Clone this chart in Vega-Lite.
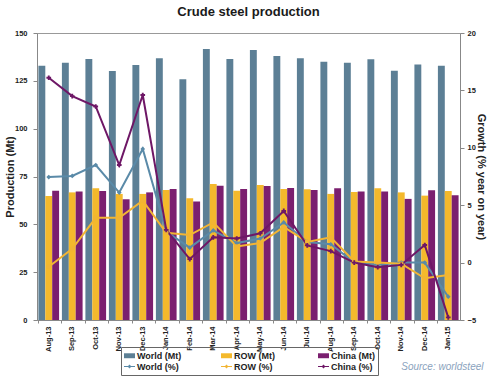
{
  "$schema": "https://vega.github.io/schema/vega-lite/v6.json",
  "autosize": {"type": "none"},
  "width": 423,
  "height": 287,
  "padding": {"left": 37, "top": 33, "right": 30, "bottom": 56},
  "background": "white",
  "title": {"text": "Crude steel production", "font": "Liberation Sans", "fontSize": 13, "fontWeight": "bold", "color": "#1a1a1a", "offset": 10},
  "config": {
    "view": {"stroke": "#999999", "strokeWidth": 1},
    "font": "Liberation Sans",
    "axis": {"grid": false, "domainColor": "#888888", "tickColor": "#888888", "labelColor": "#222222", "labelFont": "Liberation Sans", "titleFont": "Liberation Sans", "labelFontWeight": "bold", "titleFontWeight": "bold", "titleColor": "#222222"}
  },
  "datasets": {
    "bars": [
      {"month": "Aug-13", "series": "World (Mt)", "value": 132.9}, {"month": "Aug-13", "series": "ROW (Mt)", "value": 64.8}, {"month": "Aug-13", "series": "China (Mt)", "value": 67.6},
      {"month": "Sep-13", "series": "World (Mt)", "value": 134.5}, {"month": "Sep-13", "series": "ROW (Mt)", "value": 66.7}, {"month": "Sep-13", "series": "China (Mt)", "value": 67.1},
      {"month": "Oct-13", "series": "World (Mt)", "value": 136.4}, {"month": "Oct-13", "series": "ROW (Mt)", "value": 68.8}, {"month": "Oct-13", "series": "China (Mt)", "value": 67.4},
      {"month": "Nov-13", "series": "World (Mt)", "value": 130.2}, {"month": "Nov-13", "series": "ROW (Mt)", "value": 65.9}, {"month": "Nov-13", "series": "China (Mt)", "value": 63.1},
      {"month": "Dec-13", "series": "World (Mt)", "value": 133.3}, {"month": "Dec-13", "series": "ROW (Mt)", "value": 65.9}, {"month": "Dec-13", "series": "China (Mt)", "value": 66.7},
      {"month": "Jan-14", "series": "World (Mt)", "value": 136.8}, {"month": "Jan-14", "series": "ROW (Mt)", "value": 68.0}, {"month": "Jan-14", "series": "China (Mt)", "value": 68.5},
      {"month": "Feb-14", "series": "World (Mt)", "value": 125.8}, {"month": "Feb-14", "series": "ROW (Mt)", "value": 63.6}, {"month": "Feb-14", "series": "China (Mt)", "value": 61.9},
      {"month": "Mar-14", "series": "World (Mt)", "value": 141.7}, {"month": "Mar-14", "series": "ROW (Mt)", "value": 71.1}, {"month": "Mar-14", "series": "China (Mt)", "value": 70.2},
      {"month": "Apr-14", "series": "World (Mt)", "value": 136.4}, {"month": "Apr-14", "series": "ROW (Mt)", "value": 67.6}, {"month": "Apr-14", "series": "China (Mt)", "value": 68.5},
      {"month": "May-14", "series": "World (Mt)", "value": 141.1}, {"month": "May-14", "series": "ROW (Mt)", "value": 70.6}, {"month": "May-14", "series": "China (Mt)", "value": 70.0},
      {"month": "Jun-14", "series": "World (Mt)", "value": 138.0}, {"month": "Jun-14", "series": "ROW (Mt)", "value": 68.5}, {"month": "Jun-14", "series": "China (Mt)", "value": 69.0},
      {"month": "Jul-14", "series": "World (Mt)", "value": 136.8}, {"month": "Jul-14", "series": "ROW (Mt)", "value": 68.3}, {"month": "Jul-14", "series": "China (Mt)", "value": 68.0},
      {"month": "Aug-14", "series": "World (Mt)", "value": 135.0}, {"month": "Aug-14", "series": "ROW (Mt)", "value": 65.9}, {"month": "Aug-14", "series": "China (Mt)", "value": 68.8},
      {"month": "Sep-14", "series": "World (Mt)", "value": 134.5}, {"month": "Sep-14", "series": "ROW (Mt)", "value": 66.9}, {"month": "Sep-14", "series": "China (Mt)", "value": 67.1},
      {"month": "Oct-14", "series": "World (Mt)", "value": 136.3}, {"month": "Oct-14", "series": "ROW (Mt)", "value": 68.8}, {"month": "Oct-14", "series": "China (Mt)", "value": 67.1},
      {"month": "Nov-14", "series": "World (Mt)", "value": 130.3}, {"month": "Nov-14", "series": "ROW (Mt)", "value": 66.7}, {"month": "Nov-14", "series": "China (Mt)", "value": 63.3},
      {"month": "Dec-14", "series": "World (Mt)", "value": 133.5}, {"month": "Dec-14", "series": "ROW (Mt)", "value": 65.0}, {"month": "Dec-14", "series": "China (Mt)", "value": 67.8},
      {"month": "Jan-15", "series": "World (Mt)", "value": 132.9}, {"month": "Jan-15", "series": "ROW (Mt)", "value": 67.4}, {"month": "Jan-15", "series": "China (Mt)", "value": 65.2}
    ],
    "growth": [
      {"month": "Aug-13", "series": "World (%)", "value": 7.45}, {"month": "Aug-13", "series": "ROW (%)", "value": -0.36}, {"month": "Aug-13", "series": "China (%)", "value": 16.1},
      {"month": "Sep-13", "series": "World (%)", "value": 7.55}, {"month": "Sep-13", "series": "ROW (%)", "value": 1.2}, {"month": "Sep-13", "series": "China (%)", "value": 14.5},
      {"month": "Oct-13", "series": "World (%)", "value": 8.5}, {"month": "Oct-13", "series": "ROW (%)", "value": 3.9}, {"month": "Oct-13", "series": "China (%)", "value": 13.6},
      {"month": "Nov-13", "series": "World (%)", "value": 6.1}, {"month": "Nov-13", "series": "ROW (%)", "value": 3.9}, {"month": "Nov-13", "series": "China (%)", "value": 8.5},
      {"month": "Dec-13", "series": "World (%)", "value": 9.9}, {"month": "Dec-13", "series": "ROW (%)", "value": 5.4}, {"month": "Dec-13", "series": "China (%)", "value": 14.6},
      {"month": "Jan-14", "series": "World (%)", "value": 2.7}, {"month": "Jan-14", "series": "ROW (%)", "value": 2.6}, {"month": "Jan-14", "series": "China (%)", "value": 2.85},
      {"month": "Feb-14", "series": "World (%)", "value": 1.3}, {"month": "Feb-14", "series": "ROW (%)", "value": 2.4}, {"month": "Feb-14", "series": "China (%)", "value": 0.3},
      {"month": "Mar-14", "series": "World (%)", "value": 2.8}, {"month": "Mar-14", "series": "ROW (%)", "value": 3.5}, {"month": "Mar-14", "series": "China (%)", "value": 2.2},
      {"month": "Apr-14", "series": "World (%)", "value": 1.7}, {"month": "Apr-14", "series": "ROW (%)", "value": 1.4}, {"month": "Apr-14", "series": "China (%)", "value": 2.1},
      {"month": "May-14", "series": "World (%)", "value": 2.1}, {"month": "May-14", "series": "ROW (%)", "value": 1.7}, {"month": "May-14", "series": "China (%)", "value": 2.55},
      {"month": "Jun-14", "series": "World (%)", "value": 3.5}, {"month": "Jun-14", "series": "ROW (%)", "value": 3.1}, {"month": "Jun-14", "series": "China (%)", "value": 4.5},
      {"month": "Jul-14", "series": "World (%)", "value": 1.8}, {"month": "Jul-14", "series": "ROW (%)", "value": 1.8}, {"month": "Jul-14", "series": "China (%)", "value": 1.5},
      {"month": "Aug-14", "series": "World (%)", "value": 1.6}, {"month": "Aug-14", "series": "ROW (%)", "value": 2.2}, {"month": "Aug-14", "series": "China (%)", "value": 1.0},
      {"month": "Sep-14", "series": "World (%)", "value": 0.0}, {"month": "Sep-14", "series": "ROW (%)", "value": 0.1}, {"month": "Sep-14", "series": "China (%)", "value": 0.0},
      {"month": "Oct-14", "series": "World (%)", "value": -0.2}, {"month": "Oct-14", "series": "ROW (%)", "value": 0.0}, {"month": "Oct-14", "series": "China (%)", "value": -0.4},
      {"month": "Nov-14", "series": "World (%)", "value": 0.0}, {"month": "Nov-14", "series": "ROW (%)", "value": -0.1}, {"month": "Nov-14", "series": "China (%)", "value": -0.2},
      {"month": "Dec-14", "series": "World (%)", "value": 0.0}, {"month": "Dec-14", "series": "ROW (%)", "value": -1.37}, {"month": "Dec-14", "series": "China (%)", "value": 1.53},
      {"month": "Jan-15", "series": "World (%)", "value": -2.97}, {"month": "Jan-15", "series": "ROW (%)", "value": -1.08}, {"month": "Jan-15", "series": "China (%)", "value": -4.77}
    ]
  },
  "encoding": {
    "x": {
      "field": "month", "type": "nominal", "sort": null,
      "scale": {"paddingInner": 0.12, "paddingOuter": 0.06},
      "axis": {"labelAngle": -90, "labelFontSize": 7.5, "ticks": true, "tickSize": 3, "bandPosition": 0, "labelPadding": 3, "domainColor": "#888888",
        "title": "Source: worldsteel", "titleFontStyle": "italic", "titleFontWeight": "normal", "titleColor": "#8aa2bd", "titleFontSize": 10,
        "titleAlign": "right", "titleX": 446, "titleY": 49, "titleBaseline": "alphabetic"}
    }
  },
  "layer": [
    {
      "data": {"name": "bars"},
      "mark": {"type": "bar"},
      "encoding": {
        "xOffset": {"field": "series", "type": "nominal", "sort": ["World (Mt)", "ROW (Mt)", "China (Mt)"], "scale": {"paddingInner": 0, "paddingOuter": 0}},
        "y": {"field": "value", "type": "quantitative", "scale": {"domain": [0, 150]},
          "axis": {"values": [0, 25, 50, 75, 100, 125, 150], "title": "Production (Mt)", "titleFontSize": 11, "labelFontSize": 7.5, "tickSize": 4, "labelPadding": 6, "titleX": -22}},
        "color": {
          "field": "series", "type": "nominal",
          "scale": {
            "domain": ["World (Mt)", "ROW (Mt)", "China (Mt)", "World (%)", "ROW (%)", "China (%)"],
            "range": ["#5c7f95", "#f4b92c", "#7b1f6f", "#5a8aa8", "#f2b533", "#6e1766"]
          },
          "legend": {
            "orient": "none", "legendX": 84, "legendY": 314, "title": null, "columns": 3, "direction": "horizontal",
            "gridAlign": "all", "columnPadding": 39, "rowPadding": 0, "padding": 3,
            "strokeColor": "#666666",
            "labelFont": "Liberation Sans", "labelFontSize": 9, "labelFontWeight": "bold", "labelColor": "#222222", "labelOffset": 2,
            "symbolSize": 121, "symbolStrokeWidth": 0,
            "symbolType": {"expr": "indexof(datum.label, '%') >= 0 ? 'M-1,-0.1H1V0.1H-1Z M0,-0.35L0.35,0L0,0.35L-0.35,0Z' : 'M-1,-0.45H1V0.45H-1Z'"}
          }
        }
      }
    },
    {
      "data": {"name": "growth"},
      "layer": [
        {"mark": {"type": "line", "strokeWidth": 2}},
        {"mark": {"type": "point", "filled": true, "size": 22, "opacity": 1},
          "encoding": {"shape": {"field": "series", "type": "nominal", "scale": {"domain": ["World (%)", "ROW (%)", "China (%)"], "range": ["diamond", "circle", "cross"]}, "legend": null}}}
      ],
      "encoding": {
        "y": {"field": "value", "type": "quantitative", "scale": {"domain": [-5, 20]},
          "axis": {"orient": "right", "values": [-5, 0, 5, 10, 15, 20], "title": "Growth (% year on year)", "titleFontSize": 11, "labelFontSize": 7.5, "tickSize": 4, "labelPadding": 3, "titleX": 15}},
        "color": {"field": "series", "type": "nominal"}
      }
    }
  ],
  "resolve": {"scale": {"y": "independent"}}
}
